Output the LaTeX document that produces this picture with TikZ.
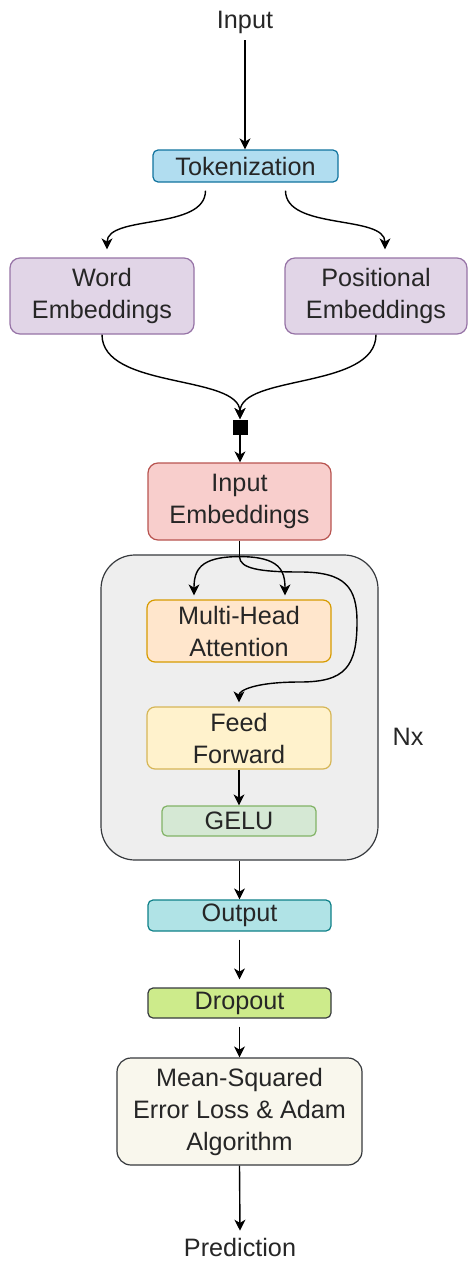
\documentclass[tikz,border=0pt]{standalone}
\usepackage{fontspec}
\setmainfont{Liberation Sans}
\usetikzlibrary{arrows.meta}

\definecolor{txtc}{HTML}{262626}
\definecolor{darkc}{HTML}{36393D}
\definecolor{tokfill}{HTML}{B1DDF0}
\definecolor{tokdraw}{HTML}{10739E}
\definecolor{embfill}{HTML}{E1D5E7}
\definecolor{embdraw}{HTML}{9673A6}
\definecolor{inembfill}{HTML}{F8CECC}
\definecolor{inembdraw}{HTML}{B85450}
\definecolor{attfill}{HTML}{FFE6CC}
\definecolor{attdraw}{HTML}{D79B00}
\definecolor{fffill}{HTML}{FFF2CC}
\definecolor{ffdraw}{HTML}{D6B656}
\definecolor{gelufill}{HTML}{D5E8D4}
\definecolor{geludraw}{HTML}{82B366}
\definecolor{outfill}{HTML}{B0E3E6}
\definecolor{outdraw}{HTML}{0E8088}
\definecolor{dropfill}{HTML}{CDEB8B}
\definecolor{msefill}{HTML}{F9F7ED}
\definecolor{layfill}{HTML}{EEEEEE}

\tikzset{
  blk/.style={draw, rounded corners=2.5pt, line width=0.6pt, align=center, inner sep=0pt, text=txtc},
  bigblk/.style={blk, rounded corners=5pt},
  arr/.style={-{Stealth[length=5.5pt,width=5.5pt,inset=1.6pt]}, line width=0.7pt, draw=black},
}

\begin{document}
\begin{tikzpicture}[x=0.5pt,y=-0.5pt,font=\fontsize{12.6}{16}\selectfont]
\useasboundingbox (0,0) rectangle (467,1263);

% the encoder layer, repeated Nx
\node[blk, fill=layfill, draw=darkc, rounded corners=17pt, minimum width=138.5pt, minimum height=152.5pt] (layer) at (239.5,707.5) {};

\node[text=txtc] (inp) at (245,22) {Input};
\node[blk, fill=tokfill, draw=tokdraw, minimum width=92.5pt, minimum height=16pt] (tok) at (245.5,166) {Tokenization};
\node[bigblk, fill=embfill, draw=embdraw, minimum width=92pt, minimum height=38pt] (word) at (102,296) {Word\\Embeddings};
\node[bigblk, fill=embfill, draw=embdraw, minimum width=91pt, minimum height=38pt] (pos) at (376,296) {Positional\\Embeddings};
\node[fill=black, minimum size=7.5pt, inner sep=0pt] (join) at (240,427) {};
\node[bigblk, fill=inembfill, draw=inembdraw, minimum width=91.5pt, minimum height=38.5pt] (inemb) at (239.5,501.5) {Input\\Embeddings};

\node[blk, rounded corners=4pt, fill=attfill, draw=attdraw, minimum width=92pt, minimum height=31pt] (mha) at (239,631) {Multi-Head\\Attention};
\node[blk, rounded corners=4pt, fill=fffill, draw=ffdraw, minimum width=92pt, minimum height=31pt] (ff) at (239,738) {Feed\\Forward};
\node[blk, fill=gelufill, draw=geludraw, minimum width=77pt, minimum height=15pt] (gelu) at (239,821) {GELU};
\node[text=txtc] (nx) at (408,737) {Nx};

\node[blk, fill=outfill, draw=outdraw, minimum width=91.5pt, minimum height=15.5pt] (out) at (239.5,915.5) {Output};
\node[blk, fill=dropfill, draw=darkc, minimum width=91.5pt, minimum height=15pt] (drop) at (239.5,1003) {Dropout};
\node[bigblk, rounded corners=7pt, fill=msefill, draw=darkc, minimum width=122.5pt, minimum height=53.5pt] (mse) at (239.5,1111.5) {Mean-Squared\\Error Loss \& Adam\\Algorithm};
\node[text=txtc] (pred) at (240,1247) {Prediction};

% connectors
\draw[arr] (inp.south) -- (inp.south |- tok.north);
\draw[arr] ([xshift=-20pt,yshift=-4pt]tok.south) .. controls +(0,40) and +(0,-35) .. ([xshift=2.5pt,yshift=4pt]word.north);
\draw[arr] ([xshift=20pt,yshift=-4pt]tok.south) .. controls +(0,40) and +(0,-35) .. ([xshift=4.5pt,yshift=4pt]pos.north);
\draw[arr] (word.south) .. controls +(0,55) and +(0,-45) .. (join.north);
\draw[arr] (pos.south) .. controls +(0,55) and +(0,-45) .. (join.north);
\draw[arr] (join.south) -- (join.south |- inemb.north);

% into the layer: attention inputs and the residual path
\coordinate (split) at ([yshift=-8pt]inemb.south);
\coordinate (res1) at (300,572);
\coordinate (res2) at (357,622);
\coordinate (res3) at (300,682);
\draw[line width=0.7pt] (inemb.south) -- (split);
\draw[arr] (split) .. controls +(-40,0) and +(0,-25) .. ([xshift=-22.5pt,yshift=2pt]mha.north);
\draw[arr] (split) .. controls +(40,0) and +(0,-25) .. ([xshift=23pt,yshift=2pt]mha.north);
\draw[arr] (split) .. controls +(0,12) and +(-40,0) .. (res1)
  .. controls +(45,0) and +(0,-35) .. (res2)
  .. controls +(0,45) and +(45,0) .. (res3)
  .. controls +(-45,0) and +(0,-12) .. ([yshift=2pt]ff.north);
\draw[arr] (ff.south) -- (gelu.north);

\draw[arr] (layer.south) -- (layer.south |- out.north);
\draw[arr] ([yshift=-4pt]out.south) -- ([yshift=4pt]drop.north);
\draw[arr] ([yshift=-4pt]drop.south) -- (mse.north);
\draw[arr] (mse.south) -- (pred.north);
\end{tikzpicture}
\end{document}
